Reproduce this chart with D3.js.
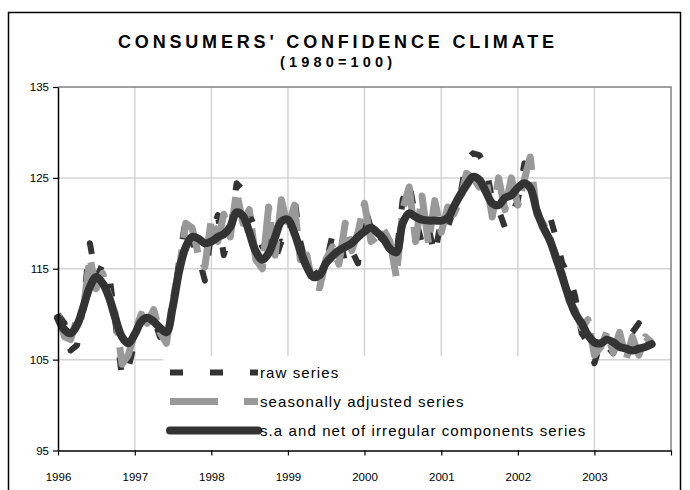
<!DOCTYPE html>
<html>
<head>
<meta charset="utf-8">
<script src="https://cdn.jsdelivr.net/npm/d3@7"></script>
<style>
  body { margin: 0; background: #fff; }
  svg { display: block; font-family: "Liberation Sans", Arial, sans-serif; }
</style>
</head>
<body>
<svg id="chart"></svg>
<script>
// Consumers' confidence climate, monthly Jan 1996 - Oct 2003 (1980=100)

const START_YEAR = 1996;
const YEAR_TICKS = [1996, 1997, 1998, 1999, 2000, 2001, 2002, 2003];
const Y_TICKS = [95, 105, 115, 125, 135];

// raw series
const raw = [
  110.0, 109.0, 106.0, 106.6, 111.0, 117.8, 114.0, 115.5, 114.5, 109.0,
  103.0, 104.0, 107.0, 109.9, 109.5, 109.5, 107.5, 109.9, 110.5, 116.0,
  120.5, 118.0, 116.3, 113.7, 119.0, 120.9, 116.5, 119.0, 124.4, 123.7,
  121.0, 119.3, 117.4, 118.0, 116.0, 118.0, 117.6, 122.8, 118.0, 115.0,
  114.9, 114.0, 115.5, 118.7, 119.0, 115.6, 117.0, 115.6, 121.8, 119.5,
  117.6, 118.5, 117.5, 116.5, 122.6, 124.5, 120.5, 117.8, 119.5, 116.5,
  120.5, 119.6, 121.5, 123.0, 127.0, 127.7, 127.5, 126.4, 122.5, 121.5,
  119.5, 121.0, 122.5, 126.6, 124.5, 122.0, 121.0, 120.9, 118.5, 115.6,
  114.3, 112.0, 107.9, 106.9, 104.6, 107.0, 106.5, 105.7, 107.5, 107.9,
  108.0, 109.0, 106.5, 107.0
];

// seasonally adjusted series
const seasAdj = [
  110.0, 107.5, 107.2, 109.5, 110.5, 116.2, 112.8, 114.5, 112.0, 110.0,
  104.5, 105.5, 108.0, 110.0, 109.0, 110.5, 108.0, 106.8, 111.5, 115.0,
  120.0, 119.5, 116.5, 115.2, 120.5, 118.0, 121.0, 118.5, 123.5, 120.0,
  121.5, 116.0, 115.0, 121.8, 116.5, 122.6, 119.5, 122.0, 116.0, 116.5,
  113.0, 112.9, 116.0, 117.4, 115.5, 120.0, 117.0, 119.0, 122.2, 118.0,
  118.5, 119.3, 118.0, 114.1, 121.5, 124.0, 118.0, 123.0, 117.8, 122.5,
  119.0, 121.8, 121.0, 122.5, 125.5, 125.0, 124.0, 125.0, 120.7, 125.0,
  121.5, 125.0, 122.0, 124.8, 127.3, 121.0, 120.0, 118.5, 116.0, 114.5,
  111.5, 110.5, 108.5, 109.4, 105.5, 106.4, 108.0, 105.8, 108.0, 105.0,
  107.5, 105.5, 107.5, 106.9
];

// s.a. and net of irregular components (trend-cycle)
const trend = [
  109.6, 108.3, 107.9, 108.8, 110.8, 113.0, 114.1, 113.4, 111.8, 109.5,
  107.5, 106.8, 107.8, 109.2, 109.6, 109.2, 108.5, 108.0, 110.8, 114.8,
  117.4, 118.5, 118.3, 117.8, 118.0, 118.5, 118.8, 119.6, 121.2, 120.8,
  119.0, 116.9, 116.0, 116.7, 118.5, 120.2, 120.4, 118.9, 117.0, 115.2,
  114.1, 114.3, 115.6, 116.4, 117.0, 117.4, 117.8, 118.5, 119.1, 119.5,
  119.0, 118.3, 117.2, 116.8, 120.0, 121.1, 120.7, 120.4, 120.3, 120.3,
  120.3, 120.6, 121.8, 123.1, 124.2, 125.1, 124.8, 123.5, 122.2, 122.0,
  122.8, 123.1, 123.9, 124.4, 123.9, 121.4, 119.6, 118.2, 116.3, 114.1,
  111.9, 110.1, 109.0, 107.7, 106.9, 106.8, 107.2, 106.9, 106.4, 106.2,
  106.0, 106.2, 106.4, 106.7
];

const months = raw.map((_, i) => new Date(START_YEAR, i, 1));

// plot dash vs legend-sample dash (Excel draws the sample shorter)
const series = [
  { name: "raw series", values: raw, color: "#333333", width: 6, dash: "13,24", legendDash: "13,27", cap: "butt" },
  { name: "seasonally adjusted series", values: seasAdj, color: "#999999", width: 7, dash: "48,12", legendDash: "48,26", cap: "butt" },
  { name: "s.a and net of irregular components series", values: trend, color: "#333333", width: 8, dash: null, legendDash: null, cap: "round" },
];

const width = 690;
const height = 490;
const margin = { top: 87, right: 19, bottom: 39.5, left: 58 };
const plotW = width - margin.left - margin.right;
const plotH = height - margin.top - margin.bottom;

const svg = d3.select("#chart")
  .attr("width", width)
  .attr("height", height);

svg.append("rect")
  .attr("width", width).attr("height", height)
  .attr("fill", "#fff");

// outer chart frame (runs off the bottom of the picture)
svg.append("rect")
  .attr("x", 8.5).attr("y", 12.5)
  .attr("width", 672).attr("height", 520)
  .attr("fill", "none")
  .attr("stroke", "#000")
  .attr("stroke-width", 1.5);

// --- titles ---
svg.append("text")
  .attr("x", 118).attr("y", 48)
  .attr("textLength", 436)
  .attr("lengthAdjust", "spacing")
  .style("font-size", "18px")
  .style("font-weight", "bold")
  .text("CONSUMERS' CONFIDENCE CLIMATE");

svg.append("text")
  .attr("x", 280).attr("y", 67)
  .attr("textLength", 112)
  .attr("lengthAdjust", "spacing")
  .style("font-size", "14.5px")
  .style("font-weight", "bold")
  .text("(1980=100)");

const x = d3.scaleTime()
  .domain([new Date(START_YEAR, 0, 1), new Date(2004, 0, 1)])
  .range([0, plotW]);

const y = d3.scaleLinear()
  .domain([95, 135])
  .range([plotH, 0]);

const g = svg.append("g")
  .attr("transform", `translate(${margin.left},${margin.top})`);

// grid
g.append("g")
  .selectAll("line")
  .data(Y_TICKS.slice(1, -1))
  .join("line")
  .attr("x1", 0).attr("x2", plotW)
  .attr("y1", d => y(d)).attr("y2", d => y(d))
  .attr("stroke", "#d4d4d4")
  .attr("stroke-width", 1.5);

g.append("g")
  .selectAll("line")
  .data(YEAR_TICKS.slice(1))
  .join("line")
  .attr("x1", d => x(new Date(d, 0, 1))).attr("x2", d => x(new Date(d, 0, 1)))
  .attr("y1", 0).attr("y2", plotH)
  .attr("stroke", "#d4d4d4")
  .attr("stroke-width", 1.5);

// top and right plot border
g.append("path")
  .attr("d", `M0,0H${plotW}V${plotH}`)
  .attr("fill", "none")
  .attr("stroke", "#808080")
  .attr("stroke-width", 1.5);

// --- series ---
const line = d3.line()
  .x((d, i) => x(months[i]))
  .y(d => y(d));

const smoothLine = d3.line()
  .x((d, i) => x(months[i]))
  .y(d => y(d))
  .curve(d3.curveCatmullRom.alpha(0.5));

series.forEach(s => {
  g.append("path")
    .datum(s.values)
    .attr("d", s.dash ? line : smoothLine)
    .attr("fill", "none")
    .attr("stroke", s.color)
    .attr("stroke-width", s.width)
    .attr("stroke-dasharray", s.dash)
    .attr("stroke-linecap", s.cap)
    .attr("stroke-linejoin", "round");
});

// --- axes ---
const xAxis = g.append("g")
  .attr("transform", `translate(0,${plotH})`)
  .call(d3.axisBottom(x)
    .tickValues(YEAR_TICKS.concat([2004]).map(yr => new Date(yr, 0, 1)))
    .tickSize(5)
    .tickSizeOuter(0)
    .tickFormat(d => d.getFullYear() < 2004 ? d.getFullYear() : ""));

const yAxis = g.append("g")
  .call(d3.axisLeft(y)
    .tickValues(Y_TICKS)
    .tickSize(5)
    .tickSizeOuter(0));

[xAxis, yAxis].forEach(ax => {
  ax.select(".domain").attr("stroke", "#000").attr("stroke-width", 1.5);
  ax.selectAll(".tick line").attr("stroke", "#000").attr("stroke-width", 1.2);
  ax.selectAll(".tick text")
    .attr("fill", "#000")
    .style("font-size", "11.5px")
    .style("font-family", "'Liberation Sans', Arial, sans-serif");
});
xAxis.selectAll(".tick text").attr("dy", "1.95em");
yAxis.selectAll(".tick text").attr("x", -9);

// --- legend (white box over the plot) ---
const legend = svg.append("g")
  .attr("transform", "translate(163,356)");

legend.append("rect")
  .attr("width", 428).attr("height", 94)
  .attr("fill", "#fff");

series.forEach((s, i) => {
  const row = legend.append("g")
    .attr("transform", `translate(0,${16.5 + i * 29})`);
  row.append("line")
    .attr("x1", 7).attr("x2", 95)
    .attr("stroke", s.color)
    .attr("stroke-width", s.width)
    .attr("stroke-dasharray", s.legendDash)
    .attr("stroke-linecap", s.cap);
  row.append("text")
    .attr("x", 97).attr("y", 5.5)
    .style("font-size", "15px")
    .style("letter-spacing", "1.1px")
    .attr("fill", "#000")
    .text(s.name);
});
</script>
</body>
</html>
